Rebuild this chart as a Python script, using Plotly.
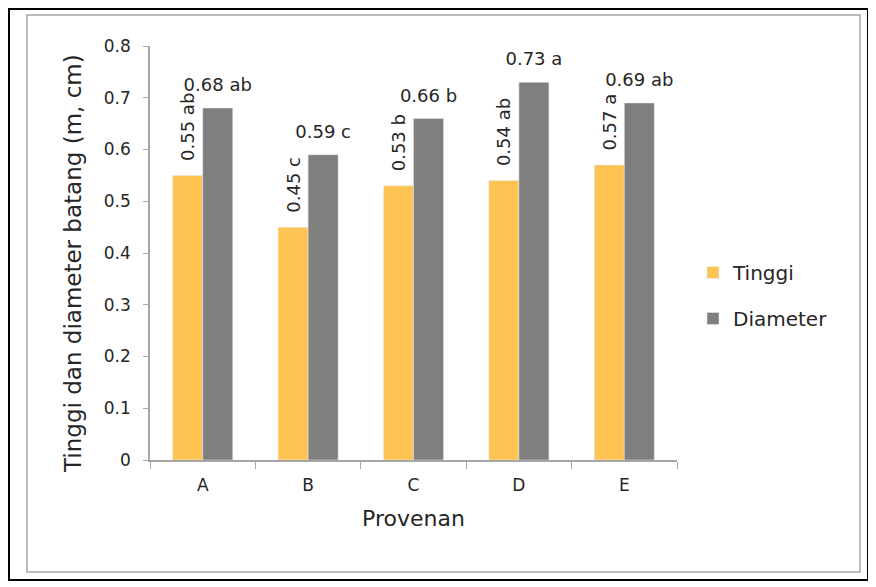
import plotly.graph_objects as go

categories = ["A", "B", "C", "D", "E"]
tinggi = [0.55, 0.45, 0.53, 0.54, 0.57]
diameter = [0.68, 0.59, 0.66, 0.73, 0.69]
tinggi_labels = ["0.55 ab", "0.45 c", "0.53 b", "0.54 ab", "0.57 a"]
diameter_labels = ["0.68 ab", "0.59 c", "0.66 b", "0.73 a", "0.69 ab"]

W, H = 876, 587
OFF = 8  # page body margin
# plot area in screen pixels
PL, PR, PT, PB = 150, 677, 46, 460
L, T = PL - OFF, PT - OFF
R, B = W - (PR - OFF), H - (PB - OFF)
pw, ph = PR - PL, PB - PT

def px(x):
    return (x - PL) / pw

def py(y):
    return 1 - (y - PT) / ph

FONT = "DejaVu Sans"
TXT = "#262626"
NB = "\u00a0\u00a0"

fig = go.Figure()
fig.add_trace(go.Bar(
    x=categories, y=tinggi, name="Tinggi", marker_color="#FDC453",
    text=[NB + t for t in tinggi_labels], textposition="outside", textangle=-90,
    constraintext="none", cliponaxis=False,
    textfont=dict(size=18, color=TXT, family=FONT),
    legendgroup="t", offsetgroup="t", alignmentgroup="g",
))
fig.add_trace(go.Bar(
    x=categories, y=diameter, name="Diameter", marker_color="#7F7F7F",
    legendgroup="d", offsetgroup="d", alignmentgroup="g",
))
fig.add_trace(go.Scatter(
    x=categories, y=diameter, mode="markers+text", text=diameter_labels,
    textposition="top center", marker=dict(size=18, opacity=0),
    textfont=dict(size=18, color=TXT, family=FONT), cliponaxis=False,
    showlegend=False, hoverinfo="skip", offsetgroup="d", alignmentgroup="g",
))

shapes = [
    dict(type="rect", xref="paper", yref="paper",
         x0=px(9), x1=px(868), y0=py(580), y1=py(9),
         line=dict(color="#000000", width=2), layer="below"),
    dict(type="rect", xref="paper", yref="paper",
         x0=px(27), x1=px(860), y0=py(572), y1=py(15),
         line=dict(color="#A6A6A6", width=1.5), layer="below"),
]

annotations = [
    dict(text="Tinggi dan diameter batang (m, cm)", textangle=-90,
         xref="paper", yref="paper", x=px(73), y=py(264),
         xanchor="center", yanchor="middle", showarrow=False,
         font=dict(size=23, family=FONT, color=TXT)),
]

fig.update_layout(
    width=W, height=H,
    margin=dict(l=L, r=R, t=T, b=B, autoexpand=False),
    paper_bgcolor="white", plot_bgcolor="white",
    font=dict(family=FONT, color=TXT),
    barmode="group", bargap=0.43, bargroupgap=0, scattermode="group",
    showlegend=True,
    legend=dict(x=px(693), y=py(253), xanchor="left", yanchor="top",
                font=dict(size=20, family=FONT, color=TXT),
                tracegroupgap=17, bgcolor="rgba(0,0,0,0)"),
    shapes=shapes,
    annotations=annotations,
    xaxis=dict(
        showline=True, linecolor="#A6A6A6", linewidth=1.5,
        ticks="outside", tickson="boundaries", ticklen=7, tickcolor="#A6A6A6",
        ticklabelstandoff=9,
        tickfont=dict(size=17, family=FONT, color=TXT),
        title=dict(text="Provenan", font=dict(size=22, family=FONT, color=TXT), standoff=16),
        showgrid=False, zeroline=False,
    ),
    yaxis=dict(
        range=[0, 0.8], dtick=0.1, tickformat=".1~f",
        showline=True, linecolor="#A6A6A6", linewidth=1.5,
        ticks="outside", ticklen=5, tickcolor="#A6A6A6",
        ticklabelstandoff=9,
        tickfont=dict(size=17, family=FONT, color=TXT),
        showgrid=False, zeroline=False,
    ),
)

fig.write_html("out.html")
